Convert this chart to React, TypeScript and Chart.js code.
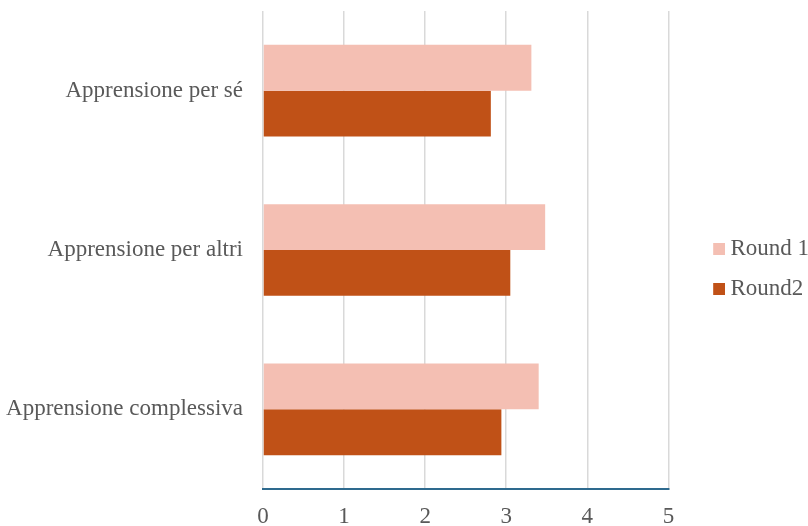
import React, { useEffect, useRef } from "react";
import { Chart, registerables } from "chart.js";

Chart.register(...registerables);

const categories = ["Apprensione per sé", "Apprensione per altri", "Apprensione complessiva"];
const seriesNames = ["Round 1", "Round2"];
const round1 = [3.31, 3.48, 3.4];
const round2 = [2.81, 3.05, 2.94];
const xTicks = [0, 1, 2, 3, 4, 5];

const colors = ["#F4BFB3", "#C05117"];

function legendSwatch(color: string): HTMLCanvasElement {
  const c = document.createElement("canvas");
  c.width = 46;
  c.height = 12;
  const ctx = c.getContext("2d")!;
  ctx.fillStyle = color;
  ctx.fillRect(34, 0, 12, 12);
  return c;
}

export default function App() {
  const ref = useRef<HTMLCanvasElement | null>(null);
  useEffect(() => {
    document.body.style.margin = "0";
    const font = { family: "'Liberation Serif', 'Times New Roman', serif", size: 23 };
    const swatches = colors.map(legendSwatch);
    const chart = new Chart(ref.current!, {
      type: "bar",
      data: {
        labels: categories,
        datasets: [
          { label: seriesNames[0], data: round1, backgroundColor: colors[0], barPercentage: 1, categoryPercentage: 0.575, pointStyle: swatches[0] },
          { label: seriesNames[1], data: round2, backgroundColor: colors[1], barPercentage: 1, categoryPercentage: 0.575, pointStyle: swatches[1] },
        ],
      },
      options: {
        indexAxis: "y",
        animation: false,
        responsive: false,
        layout: { padding: { top: 11, right: -11, left: 0, bottom: 0 } },
        plugins: {
          legend: {
            position: "right",
            labels: {
              usePointStyle: true,
              pointStyleWidth: 33.5,
              boxHeight: 12,
              padding: 17,
              color: "#595959",
              font,
            },
          },
          tooltip: { enabled: false },
        },
        scales: {
          x: {
            min: 0,
            max: 5,
            afterBuildTicks: (axis: any) => {
              axis.ticks = xTicks.map((v) => ({ value: v }));
            },
            afterFit: (axis: any) => {
              axis.height = 37;
            },
            grid: { color: "#D9D9D9", lineWidth: 1.5, drawTicks: false },
            border: { color: "#2E6A8E", width: 2 },
            ticks: { color: "#595959", font, padding: 14 },
          },
          y: {
            afterFit: (axis: any) => {
              axis.width = 263;
              axis.paddingTop = 0;
              axis.paddingBottom = 0;
            },
            grid: { display: false, drawTicks: false },
            border: { display: false },
            ticks: { color: "#595959", font, padding: 20 },
          },
        },
      },
    } as any);
    return () => chart.destroy();
  }, []);
  return <canvas ref={ref} width={808} height={526} style={{ display: "block" }} />;
}
